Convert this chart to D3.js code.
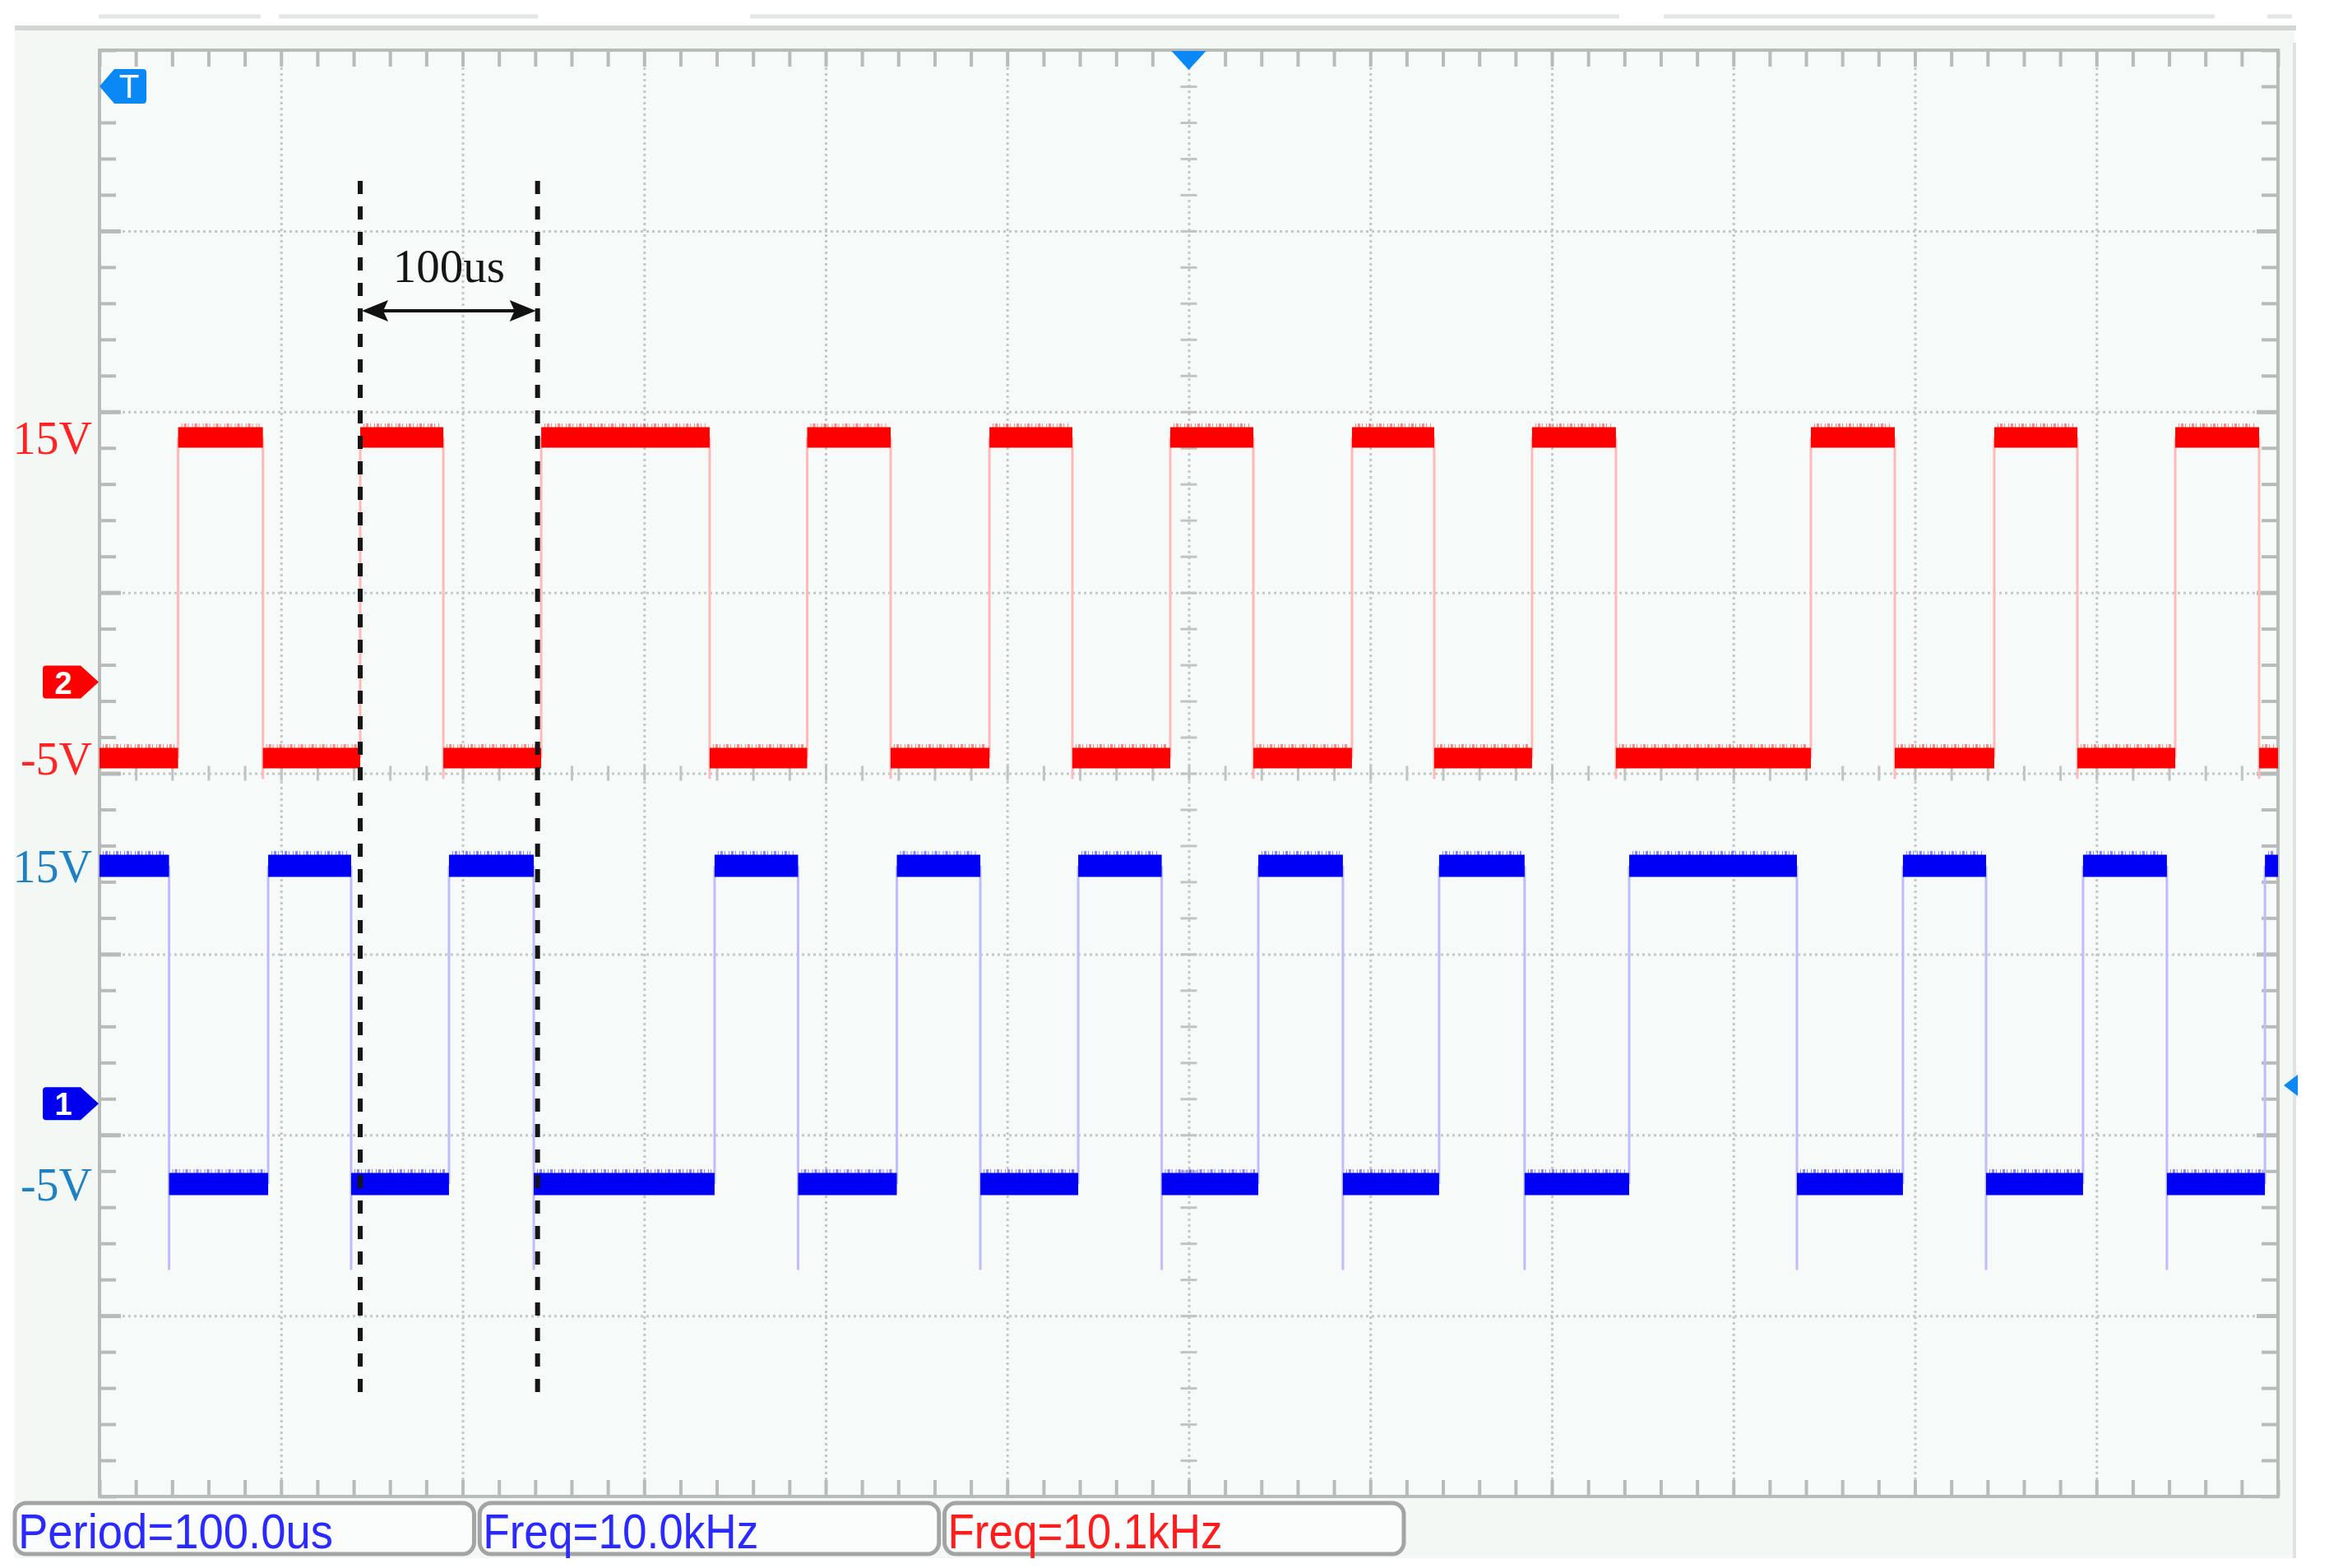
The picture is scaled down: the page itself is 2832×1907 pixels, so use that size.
<!DOCTYPE html>
<html><head><meta charset="utf-8">
<script src="https://cdn.jsdelivr.net/npm/d3@7"></script>
<style>html,body{margin:0;padding:0;background:#ffffff;} svg{display:block;}</style>
</head><body>
<svg id="chart" width="2832" height="1907"></svg>
<script>
// ================= DATA =================
const timeDomain = [0, 1200];           // µs over 12 divisions (100 µs/div)
const divisionsY = 8;
const levelHigh = 15, levelLow = -5;    // V
// Channel 2 (red): starts low, transition times in µs
const ch2Start = -5;
const ch2Edges = [43.3, 90.0, 143.6, 189.4, 243.3, 336.1, 389.8, 435.8, 490.2, 535.9, 589.8,
                  635.6, 689.9, 735.2, 789.1, 835.3, 942.7, 988.9, 1043.7, 1089.5, 1143.4, 1189.6];
const ch2Undershoot = -6.3;
// Channel 1 (blue): starts high, transition times in µs
const ch1Start = 15;
const ch1Edges = [38.3, 92.9, 138.6, 192.5, 239.2, 338.8, 384.8, 439.2, 485.2, 539.1, 585.1,
                  638.3, 684.9, 737.9, 785.0, 842.6, 935.0, 993.4, 1039.2, 1092.6, 1138.8, 1192.8];
const ch1Undershoot = -10.4;
const levelLabels = ["15V", "-5V"];
const levelValues = [15, -5];
const cursorTimes = [143.6, 241.3];
const cursorLabel = "100us";
const measurements = ["Period=100.0us", "Freq=10.0kHz", "Freq=10.1kHz"];
const triggerTime = 600;
// ========================================

const svg = d3.select("#chart");
const P = {left: 121, right: 2770, top: 61, bottom: 1820};

const x = d3.scaleLinear().domain(timeDomain).range([P.left, P.right]);
const gy = d3.scaleLinear().domain([0, divisionsY]).range([P.top, P.bottom]);
const yRed = d3.scaleLinear().domain([levelLow, levelHigh]).range([922, 532]);
const yBlue = d3.scaleLinear().domain([levelLow, levelHigh]).range([1440, 1053]);

// ---------- window chrome ----------
svg.append("rect").attr("x", 18).attr("y", 36).attr("width", 2772).attr("height", 1859).attr("fill", "#f3f8f5");
[[120, 317], [339, 654], [912, 1969], [2023, 2693], [2757, 2787]].forEach(s => {
  svg.append("line").attr("x1", s[0]).attr("x2", s[1]).attr("y1", 20).attr("y2", 20)
    .attr("stroke", "#e3e7e5").attr("stroke-width", 5);
});
svg.append("line").attr("x1", 18).attr("x2", 2792).attr("y1", 34).attr("y2", 34)
  .attr("stroke", "#d2d5d3").attr("stroke-width", 6);
svg.append("line").attr("x1", 2790).attr("x2", 2790).attr("y1", 52).attr("y2", 1895)
  .attr("stroke", "#dfe3e1").attr("stroke-width", 4);

// ---------- plot area ----------
svg.append("rect").attr("x", P.left).attr("y", P.top).attr("width", P.right - P.left)
  .attr("height", P.bottom - P.top).attr("fill", "#f6faf8");

const clean = g => g.select(".domain").remove();
const tickStyle = (g, w, c) => g.selectAll("line").attr("stroke", c).attr("stroke-width", w);

// dotted grid
const gridX = svg.append("g").attr("transform", `translate(0,${P.top})`)
  .call(d3.axisBottom(x).tickValues(d3.range(100, 1200, 100)).tickSize(P.bottom - P.top).tickFormat(""))
  .call(clean);
gridX.selectAll("line").attr("stroke", "#c4c9c7").attr("stroke-width", 3).attr("stroke-dasharray", "3,4");
const gridY = svg.append("g").attr("transform", `translate(${P.left},0)`)
  .call(d3.axisRight(gy).tickValues(d3.range(1, divisionsY)).tickSize(P.right - P.left).tickFormat(""))
  .call(clean);
gridY.selectAll("line").attr("stroke", "#c4c9c7").attr("stroke-width", 3).attr("stroke-dasharray", "3,4");

// minor ticks on frame
const minorX = d3.range(0, 1200.001, 20);
const minorY = d3.range(0, divisionsY + 0.001, 0.2);
const tc = "#b7bcba";
svg.append("g").attr("transform", `translate(0,${P.top})`)
  .call(d3.axisBottom(x).tickValues(minorX).tickSize(20).tickFormat("")).call(clean).call(g => tickStyle(g, 4, tc));
svg.append("g").attr("transform", `translate(0,${P.bottom})`)
  .call(d3.axisTop(x).tickValues(minorX).tickSize(20).tickFormat("")).call(clean).call(g => tickStyle(g, 4, tc));
svg.append("g").attr("transform", `translate(${P.left},0)`)
  .call(d3.axisRight(gy).tickValues(minorY).tickSize(20).tickFormat("")).call(clean).call(g => tickStyle(g, 4, tc));
svg.append("g").attr("transform", `translate(${P.right},0)`)
  .call(d3.axisLeft(gy).tickValues(minorY).tickSize(20).tickFormat("")).call(clean).call(g => tickStyle(g, 4, tc));
// major ticks at frame edges (longer)
svg.append("g").attr("transform", `translate(${P.left},0)`)
  .call(d3.axisRight(gy).tickValues(d3.range(1, divisionsY)).tickSize(26).tickFormat("")).call(clean).call(g => tickStyle(g, 5, tc));
svg.append("g").attr("transform", `translate(${P.right},0)`)
  .call(d3.axisLeft(gy).tickValues(d3.range(1, divisionsY)).tickSize(26).tickFormat("")).call(clean).call(g => tickStyle(g, 5, tc));
// center cross ticks
const cy = gy(divisionsY / 2), cx = x(triggerTime);
svg.append("g").attr("transform", `translate(0,${cy - 9})`)
  .call(d3.axisBottom(x).tickValues(minorX).tickSize(18).tickFormat("")).call(clean).call(g => tickStyle(g, 3, "#c0c5c3"));
svg.append("g").attr("transform", `translate(${cx - 10},0)`)
  .call(d3.axisRight(gy).tickValues(minorY).tickSize(20).tickFormat("")).call(clean).call(g => tickStyle(g, 3, "#c0c5c3"));

// frame
svg.append("rect").attr("x", P.left).attr("y", P.top).attr("width", P.right - P.left)
  .attr("height", P.bottom - P.top).attr("fill", "none").attr("stroke", "#b7bcba").attr("stroke-width", 4);

// ---------- traces ----------
const other = v => (v === levelHigh ? levelLow : levelHigh);
function segments(start, edges) {
  const t = [timeDomain[0], ...edges, timeDomain[1]];
  return d3.range(t.length - 1).map(i => ({t0: t[i], t1: t[i + 1], v: i % 2 === 0 ? start : other(start)}));
}
function edgeLines(start, edges, under) {
  return edges.map((t, i) => {
    const before = i % 2 === 0 ? start : other(start);
    const falling = before === levelHigh;
    return {t, v0: falling ? levelHigh : levelLow, v1: falling ? under : levelHigh};
  });
}
const line = d3.line();

function drawTrace(start, edges, under, y, col, pale, bandW) {
  const g = svg.append("g");
  g.selectAll("path.edge").data(edgeLines(start, edges, under)).join("path")
    .attr("class", "edge")
    .attr("d", d => line([[x(d.t), y(d.v0)], [x(d.t), y(d.v1)]]))
    .attr("stroke", pale).attr("stroke-width", 3).attr("fill", "none");
  const segs = segments(start, edges);
  g.selectAll("path.fringe").data(segs).join("path")
    .attr("class", "fringe")
    .attr("d", d => line([[x(d.t0) + 4, y(d.v) - bandW / 2 - 2], [x(d.t1) - 4, y(d.v) - bandW / 2 - 2]]))
    .attr("stroke", col).attr("stroke-width", 5).attr("stroke-dasharray", "1,2,3,2,1,4")
    .attr("opacity", 0.45).attr("fill", "none");
  g.selectAll("path.band").data(segs).join("path")
    .attr("class", "band")
    .attr("d", d => line([[x(d.t0), y(d.v)], [x(d.t1), y(d.v)]]))
    .attr("stroke", col).attr("stroke-width", bandW).attr("fill", "none");
}
drawTrace(ch2Start, ch2Edges, ch2Undershoot, yRed, "#ff0000", "#ffb9b9", 25);
drawTrace(ch1Start, ch1Edges, ch1Undershoot, yBlue, "#0000f5", "#bdbdfb", 27);

// ---------- level labels ----------
const serif = "'Liberation Serif','Times New Roman',serif";
levelLabels.forEach((lab, i) => {
  svg.append("text").attr("x", 112).attr("y", yRed(levelValues[i]) + 20)
    .attr("text-anchor", "end").attr("font-family", serif).attr("font-size", 56)
    .attr("fill", "#ff2323").text(lab);
  svg.append("text").attr("x", 112).attr("y", yBlue(levelValues[i]) + 20)
    .attr("text-anchor", "end").attr("font-family", serif).attr("font-size", 56)
    .attr("fill", "#1f80c4").text(lab);
});

// ---------- markers ----------
const sans = "'Liberation Sans',Arial,sans-serif";
// trigger "T"
svg.append("path").attr("d", "M121,105 L139,84 L174,84 Q178,84 178,88 L178,122 Q178,126 174,126 L139,126 Z")
  .attr("fill", "#0a88f5");
svg.append("text").attr("x", 157).attr("y", 119).attr("text-anchor", "middle")
  .attr("font-family", sans).attr("font-size", 40).attr("fill", "#ffffff").text("T");
// channel ground markers
function chMarker(yc, col, label) {
  svg.append("path").attr("d", `M52,${yc - 16} Q52,${yc - 20} 56,${yc - 20} L98,${yc - 20} L120,${yc} L98,${yc + 20} L56,${yc + 20} Q52,${yc + 20} 52,${yc + 16} Z`)
    .attr("fill", col);
  svg.append("text").attr("x", 77).attr("y", yc + 14).attr("text-anchor", "middle")
    .attr("font-family", sans).attr("font-weight", "bold").attr("font-size", 38)
    .attr("fill", "#ffffff").text(label);
}
chMarker(yRed(0) + 5, "#ff0000", "2");
chMarker(yBlue(0) - 1, "#0000ee", "1");
// trigger position (top) and level (right)
svg.append("path").attr("d", `M${cx - 21},62 L${cx + 21},62 L${cx},85 Z`).attr("fill", "#0a88f5");
svg.append("path").attr("d", "M2777,1320 L2794,1307 L2794,1333 Z").attr("fill", "#0a88f5");

// ---------- cursors & annotation ----------
cursorTimes.forEach(t => {
  svg.append("line").attr("x1", x(t)).attr("x2", x(t)).attr("y1", 220).attr("y2", 1703)
    .attr("stroke", "#151515").attr("stroke-width", 6).attr("stroke-dasharray", "16,15");
});
const ax0 = x(cursorTimes[0]) + 2, ax1 = x(cursorTimes[1]) - 2, ay = 378;
svg.append("line").attr("x1", ax0 + 20).attr("x2", ax1 - 20).attr("y1", ay).attr("y2", ay)
  .attr("stroke", "#111").attr("stroke-width", 4);
svg.append("path").attr("d", `M${ax0},${ay} L${ax0 + 32},${ay - 13} L${ax0 + 26},${ay} L${ax0 + 32},${ay + 13} Z`).attr("fill", "#111");
svg.append("path").attr("d", `M${ax1},${ay} L${ax1 - 32},${ay - 13} L${ax1 - 26},${ay} L${ax1 - 32},${ay + 13} Z`).attr("fill", "#111");
svg.append("text").attr("x", (ax0 + ax1) / 2).attr("y", 343).attr("text-anchor", "middle")
  .attr("font-family", serif).attr("font-size", 57).attr("fill", "#151515").text(cursorLabel);

// ---------- measurement boxes ----------
const bx = d3.scaleBand().domain(measurements).range([18, 1707]).paddingInner(0.012);
const mColors = ["#2a2aff", "#2a2aff", "#ff1c1c"];
const mWidths = [383, 335, 334];
measurements.forEach((m, i) => {
  svg.append("rect").attr("x", bx(m)).attr("y", 1828).attr("width", bx.bandwidth()).attr("height", 62)
    .attr("rx", 14).attr("fill", "#fbfdfc").attr("stroke", "#a2a5a4").attr("stroke-width", 5);
  svg.append("text").attr("x", bx(m) + 4).attr("y", 1883)
    .attr("font-family", sans).attr("font-size", 60).attr("fill", mColors[i])
    .attr("textLength", mWidths[i]).attr("lengthAdjust", "spacingAndGlyphs").text(m);
});
</script>
</body></html>
